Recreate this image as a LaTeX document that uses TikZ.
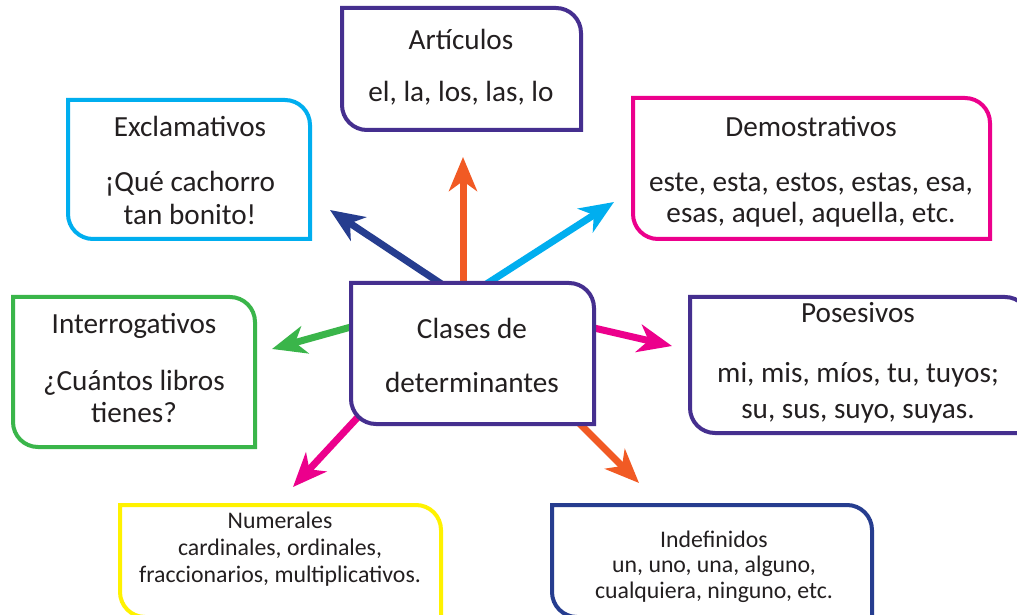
\documentclass[tikz,border=0pt]{standalone}
\usepackage{fontspec}
\setmainfont{Carlito}
\usetikzlibrary{arrows.meta,calc}
\definecolor{cpurple}{HTML}{452F8F}
\definecolor{ccyan}{HTML}{00AEEF}
\definecolor{cmagenta}{HTML}{EC008C}
\definecolor{cgreen}{HTML}{3AB54A}
\definecolor{cyellow}{HTML}{FFF200}
\definecolor{cnavy}{HTML}{263D8F}
\definecolor{corange}{HTML}{F15A24}
\definecolor{ctext}{HTML}{231F20}
\tikzset{
  boxnode/.style={draw=none, inner sep=0pt, outer sep=0pt},
  big/.style={font=\fontsize{29.2}{33}\selectfont, text=ctext, anchor=base, inner sep=0pt},
  small/.style={font=\fontsize{23.8}{27}\selectfont, text=ctext, anchor=base, inner sep=0pt},
  arr/.style={line width=7pt, -{Stealth[length=34pt, width=28pt, inset=10pt]}},
  bline/.style={line width=4pt, fill=white, line join=miter},
}
\newcommand\drawbox[2]{\draw[bline, draw=#2] (#1.north west) -- ([xshift=-25pt]#1.north east) arc[start angle=90,end angle=0,radius=25pt] -- (#1.south east) -- ([xshift=25pt]#1.south west) arc[start angle=270,end angle=180,radius=25pt] -- cycle;}
\begin{document}
\begin{tikzpicture}[x=1pt,y=1pt]
\fill[white] (0,0) rectangle (1017,614);
\useasboundingbox (0,0) rectangle (1017,614);
% box nodes
\node[boxnode, minimum width=239pt, minimum height=122pt] (art) at (461.5,545) {};
\node[boxnode, minimum width=242pt, minimum height=139pt] (exc) at (189,444.5) {};
\node[boxnode, minimum width=357pt, minimum height=141pt] (dem) at (811.5,445.5) {};
\node[boxnode, minimum width=242pt, minimum height=150pt] (int) at (134,242) {};
\node[boxnode, minimum width=243pt, minimum height=141pt] (cen) at (472.5,260.5) {};
\node[boxnode, minimum width=340pt, minimum height=136pt] (pos) at (860,249) {};
\node[boxnode, minimum width=321pt, minimum height=112pt] (num) at (280.5,53) {};
\node[boxnode, minimum width=320pt, minimum height=112pt] (ind) at (712,53) {};
% arrow ends
\coordinate (s1) at ($(cen.north west)+(89,0)$);  \coordinate (t1) at (330,404);
\coordinate (s2) at ($(cen.north west)+(112,0)$); \coordinate (t2) at (463,457);
\coordinate (s3) at ($(cen.north west)+(137,0)$); \coordinate (t3) at (614,412);
\coordinate (s4) at ($(cen.north west)+(0,-44)$); \coordinate (t4) at (272,265);
\coordinate (s5) at ($(cen.north east)+(0,-45)$); \coordinate (t5) at (672,268);
\coordinate (s6) at ($(cen.south west)+(7,7)$);   \coordinate (t6) at (293,127);
\coordinate (s7) at ($(cen.south east)+(-14,0)$); \coordinate (t7) at (639,131);
\draw[arr, cnavy]    ($(s1)!-8pt!(t1)$) -- (t1);
\draw[arr, corange]  ($(s2)!-8pt!(t2)$) -- (t2);
\draw[arr, ccyan]    ($(s3)!-8pt!(t3)$) -- (t3);
\draw[arr, cgreen]   ($(s4)!-8pt!(t4)$) -- (t4);
\draw[arr, cmagenta] ($(s5)!-8pt!(t5)$) -- (t5);
\draw[arr, cmagenta] ($(s6)!-8pt!(t6)$) -- (t6);
\draw[arr, corange]  ($(s7)!-8pt!(t7)$) -- (t7);
% boxes
\drawbox{art}{cpurple}
\drawbox{exc}{ccyan}
\drawbox{dem}{cmagenta}
\drawbox{int}{cgreen}
\drawbox{cen}{cpurple}
\drawbox{pos}{cpurple}
\drawbox{num}{cyellow}
\drawbox{ind}{cnavy}
% texts
\node[big] (art-a) at (461,564) {Artículos};
\node[big] (art-b) at (461,512) {el, la, los, las, lo};
\node[big] (exc-a) at (190,477) {Exclamativos};
\node[big] (exc-b) at (190,422) {¡Qué cachorro};
\node[big] (exc-c) at (190,389) {tan bonito!};
\node[big] (dem-a) at (811,477) {Demostrativos};
\node[big] (dem-b) at (811,422) {este, esta, estos, estas, esa,};
\node[big] (dem-c) at (811,391) {esas, aquel, aquella, etc.};
\node[big] (int-a) at (134,281) {Interrogativos};
\node[big] (int-b) at (134,224) {¿Cuántos libros};
\node[big] (int-c) at (134,192) {tienes?};
\node[big] (cen-a) at (472,276) {Clases de};
\node[big] (cen-b) at (472,222) {determinantes};
\node[big] (pos-a) at (858,291) {Posesivos};
\node[big] (pos-b) at (858,232) {mi, mis, míos, tu, tuyos;};
\node[big] (pos-c) at (858,196) {su, sus, suyo, suyas.};
\node[small] (num-a) at (280,86) {Numerales};
\node[small] (num-b) at (280,59) {cardinales, ordinales,};
\node[small] (num-c) at (280,32) {fraccionarios, multiplicativos.};
\node[small] (ind-a) at (714,67) {Indefinidos};
\node[small] (ind-b) at (714,42) {un, uno, una, alguno,};
\node[small] (ind-c) at (714,16) {cualquiera, ninguno, etc.};
\end{tikzpicture}
\end{document}
